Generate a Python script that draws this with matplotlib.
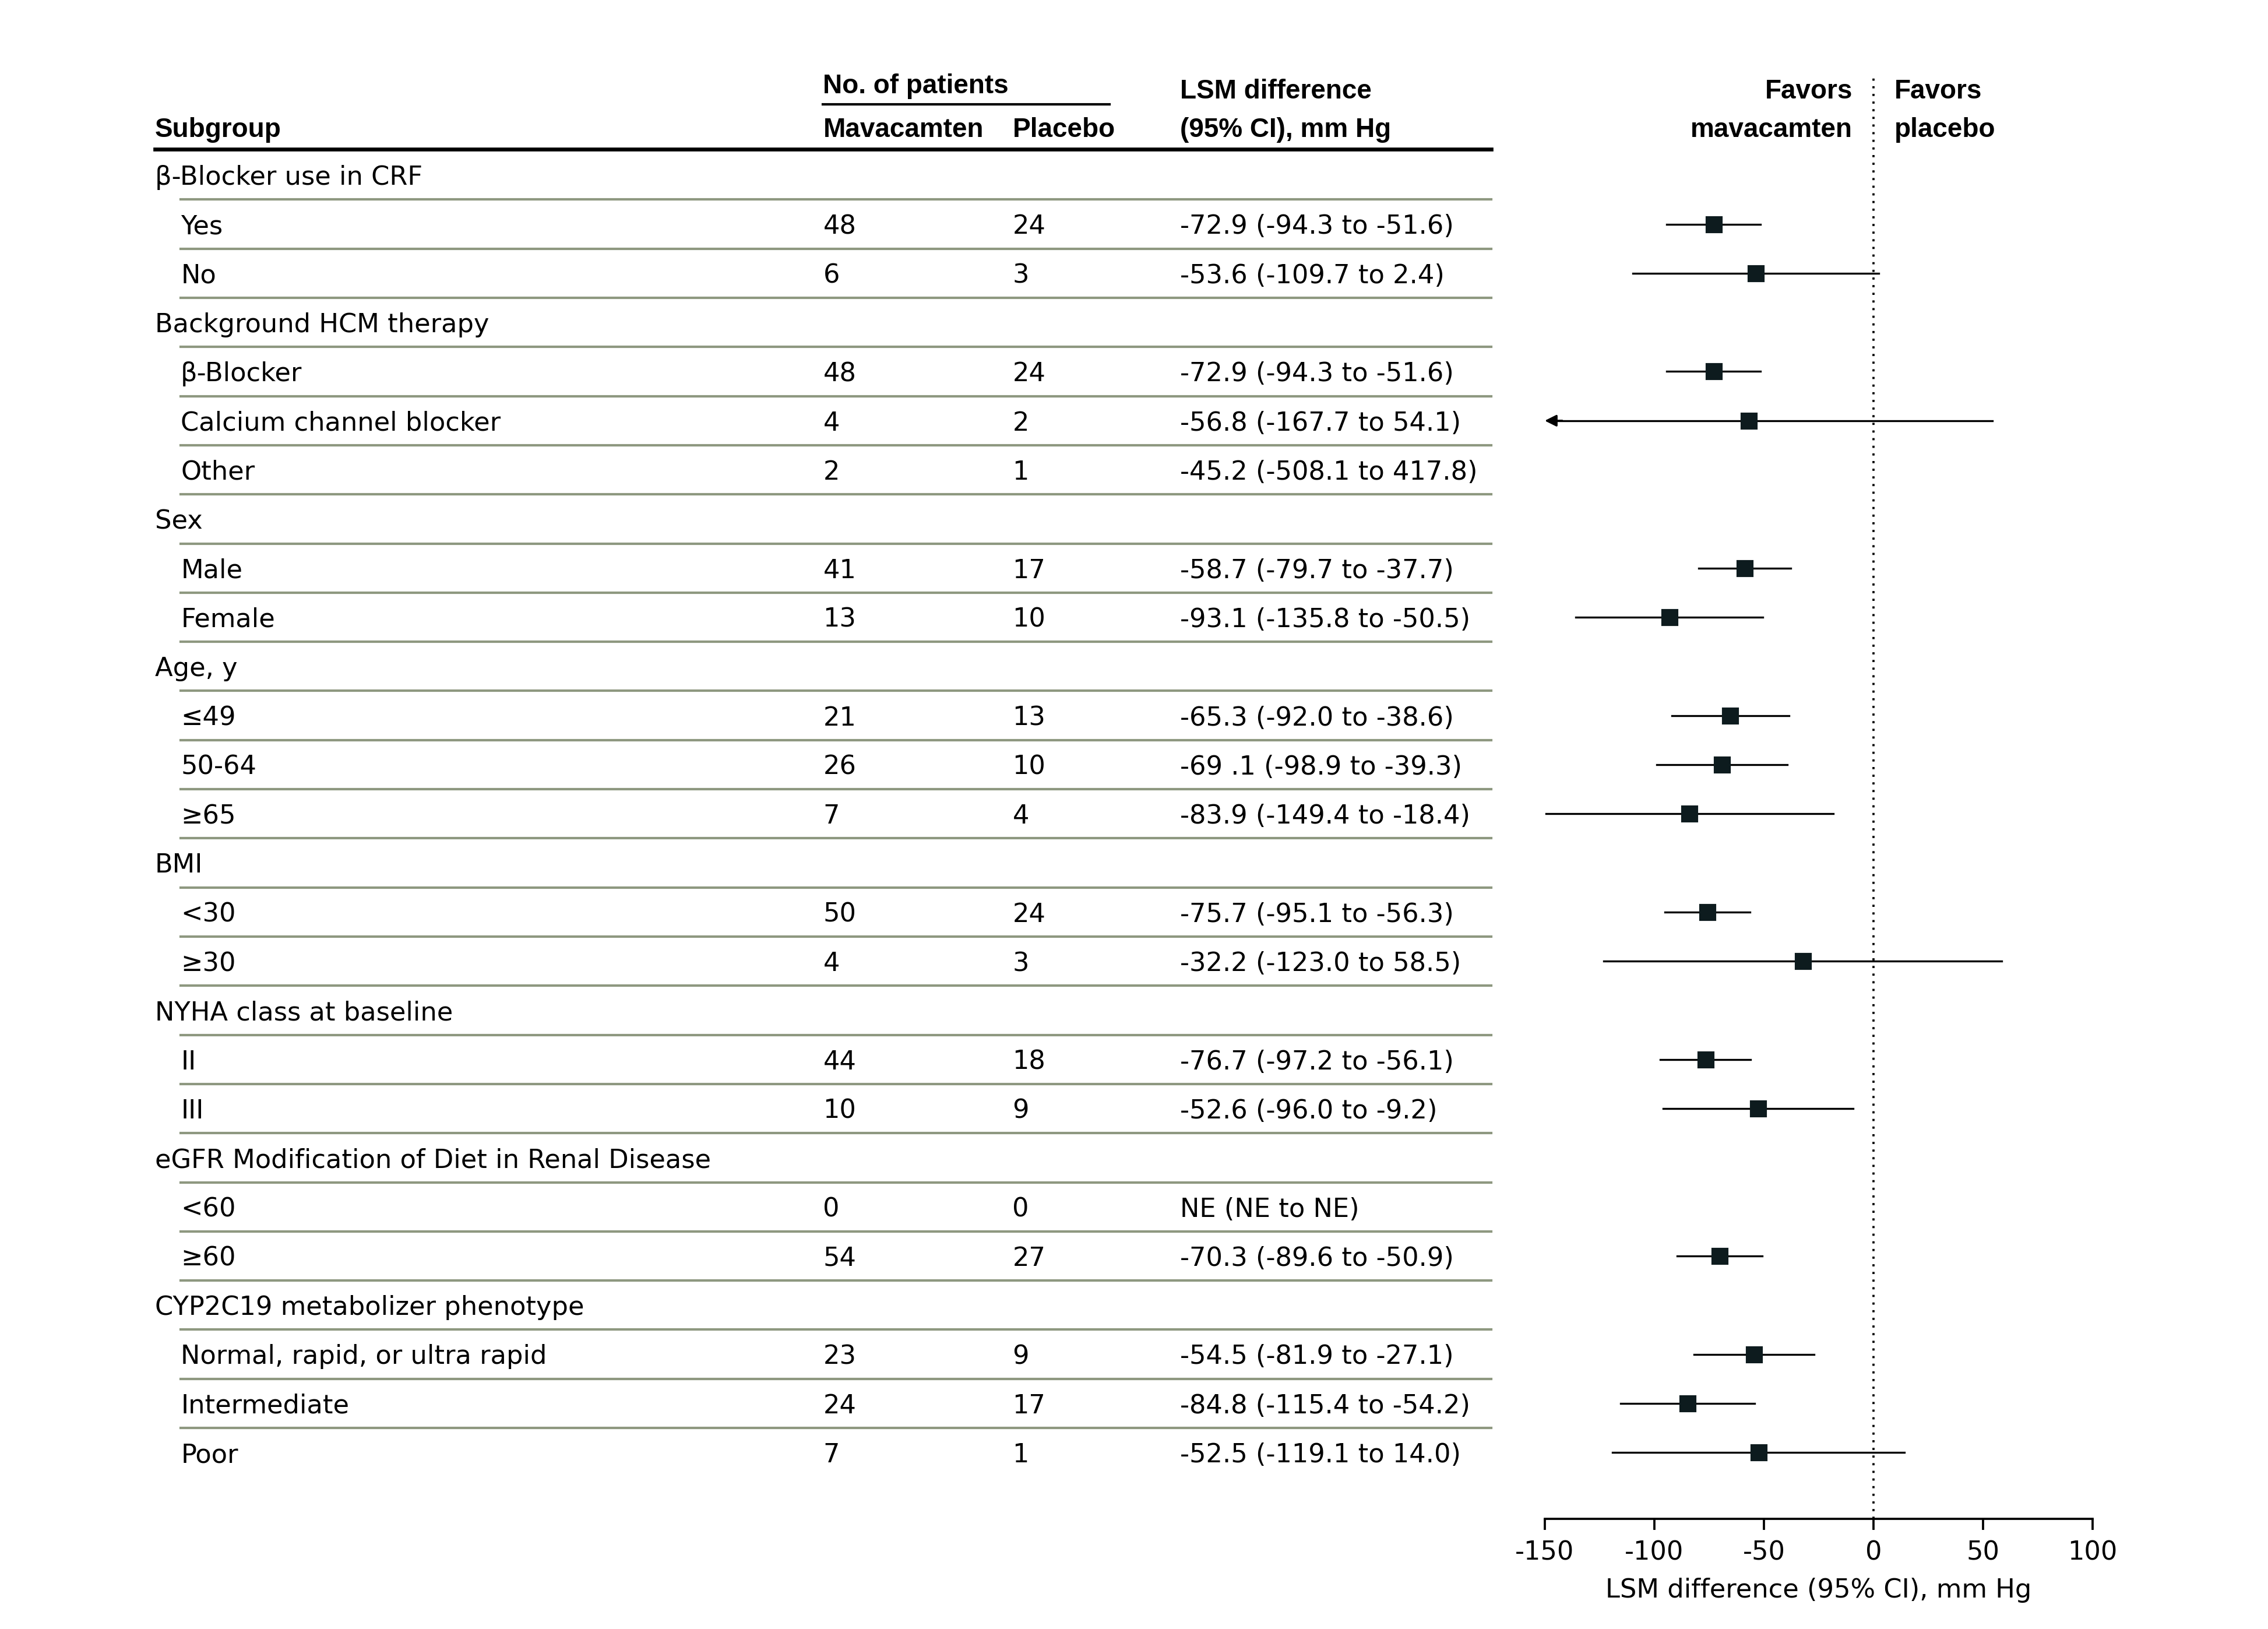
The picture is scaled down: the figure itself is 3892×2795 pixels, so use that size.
import matplotlib
matplotlib.use("Agg")
import matplotlib.pyplot as plt
import matplotlib.transforms as mtransforms

plt.rcParams['font.family'] = ['DejaVu Sans']
plt.rcParams['axes.unicode_minus'] = False

# ---- data ----
rows = [
    "β-Blocker use in CRF", "Yes", "No",
    "Background HCM therapy", "β-Blocker", "Calcium channel blocker", "Other",
    "Sex", "Male", "Female",
    "Age, y", "≤49", "50-64", "≥65",
    "BMI", "<30", "≥30",
    "NYHA class at baseline", "II", "III",
    "eGFR Modification of Diet in Renal Disease", "<60", "≥60",
    "CYP2C19 metabolizer phenotype", "Normal, rapid, or ultra rapid", "Intermediate", "Poor",
]
is_header = [True, False, False,
             True, False, False, False,
             True, False, False,
             True, False, False, False,
             True, False, False,
             True, False, False,
             True, False, False,
             True, False, False, False]
n_mava = [None, 48, 6, None, 48, 4, 2, None, 41, 13, None, 21, 26, 7,
          None, 50, 4, None, 44, 10, None, 0, 54, None, 23, 24, 7]
n_plac = [None, 24, 3, None, 24, 2, 1, None, 17, 10, None, 13, 10, 4,
          None, 24, 3, None, 18, 9, None, 0, 27, None, 9, 17, 1]
est = [None, -72.9, -53.6, None, -72.9, -56.8, -45.2, None, -58.7, -93.1,
       None, -65.3, -69.1, -83.9, None, -75.7, -32.2, None, -76.7, -52.6,
       None, None, -70.3, None, -54.5, -84.8, -52.5]
ci_lo = [None, -94.3, -109.7, None, -94.3, -167.7, -508.1, None, -79.7, -135.8,
         None, -92.0, -98.9, -149.4, None, -95.1, -123.0, None, -97.2, -96.0,
         None, None, -89.6, None, -81.9, -115.4, -119.1]
ci_hi = [None, -51.6, 2.4, None, -51.6, 54.1, 417.8, None, -37.7, -50.5,
         None, -38.6, -39.3, -18.4, None, -56.3, 58.5, None, -56.1, -9.2,
         None, None, -50.9, None, -27.1, -54.2, 14.0]
ci_text = ["", "-72.9 (-94.3 to -51.6)", "-53.6 (-109.7 to 2.4)",
           "", "-72.9 (-94.3 to -51.6)", "-56.8 (-167.7 to 54.1)", "-45.2 (-508.1 to 417.8)",
           "", "-58.7 (-79.7 to -37.7)", "-93.1 (-135.8 to -50.5)",
           "", "-65.3 (-92.0 to -38.6)", "-69 .1 (-98.9 to -39.3)", "-83.9 (-149.4 to -18.4)",
           "", "-75.7 (-95.1 to -56.3)", "-32.2 (-123.0 to 58.5)",
           "", "-76.7 (-97.2 to -56.1)", "-52.6 (-96.0 to -9.2)",
           "", "NE (NE to NE)", "-70.3 (-89.6 to -50.9)",
           "", "-54.5 (-81.9 to -27.1)", "-84.8 (-115.4 to -54.2)", "-52.5 (-119.1 to 14.0)"]
x_ticks = [-150, -100, -50, 0, 50, 100]

XMIN, XMAX = -150, 100
FS = 10.75
BFS = 11
BOLD = dict(fontsize=BFS, fontweight='bold', family=['Liberation Sans', 'DejaVu Sans'])
sep_color = '#8e9880'
mark_color = '#0d1b1e'

fig = plt.figure(figsize=(3892 / 300, 2795 / 300), dpi=300)
ax = fig.add_axes([0.6811, 0.0676, 0.2416, 0.8862])
ax.set_xlim(XMIN, XMAX)
ax.set_ylim(27.35, -2.03)

# table columns (figure fraction x, row y)
tr = mtransforms.blended_transform_factory(fig.transFigure, ax.transData)
x_sub, x_ind, x_mav, x_pla, x_ci, x_end = 0.0683, 0.0797, 0.3629, 0.4464, 0.5204, 0.6575

# headers
ax.text(x_mav, -1.66, "No. of patients", transform=tr, va='baseline', **BOLD)
ax.plot([x_mav, 0.4891], [-1.44, -1.44], transform=tr, color='black', lw=1.0, clip_on=False)
ax.text(x_sub, -0.77, "Subgroup", transform=tr, va='baseline', **BOLD)
ax.text(x_mav, -0.77, "Mavacamten", transform=tr, va='baseline', **BOLD)
ax.text(x_pla, -0.77, "Placebo", transform=tr, va='baseline', **BOLD)
ax.text(x_ci, -1.56, "LSM difference", transform=tr, va='baseline', **BOLD)
ax.text(x_ci, -0.77, "(95% CI), mm Hg", transform=tr, va='baseline', **BOLD)
ax.plot([x_sub, x_end], [-0.53, -0.53], transform=tr, color='black', lw=1.6, clip_on=False)

ax.text(-9.5, -1.56, "Favors", ha='right', va='baseline', **BOLD)
ax.text(-9.5, -0.77, "mavacamten", ha='right', va='baseline', **BOLD)
ax.text(9.5, -1.56, "Favors", ha='left', va='baseline', **BOLD)
ax.text(9.5, -0.77, "placebo", ha='left', va='baseline', **BOLD)

for i, name in enumerate(rows):
    yb = i + 0.2
    if is_header[i]:
        ax.text(x_sub, yb, name, transform=tr, fontsize=FS, va='baseline')
    else:
        ax.text(x_ind, yb, name, transform=tr, fontsize=FS, va='baseline')
        ax.text(x_mav, yb, str(n_mava[i]), transform=tr, fontsize=FS, va='baseline')
        ax.text(x_pla, yb, str(n_plac[i]), transform=tr, fontsize=FS, va='baseline')
        ax.text(x_ci, yb, ci_text[i], transform=tr, fontsize=FS, va='baseline')
    if i < len(rows) - 1:
        ax.plot([x_ind, x_end], [i + 0.5, i + 0.5], transform=tr, color=sep_color,
                lw=1.0, clip_on=False)

    # forest marks
    if est[i] is None:
        continue
    lo, hi = ci_lo[i], ci_hi[i]
    if lo < XMIN and hi > XMAX:
        continue
    if lo < XMIN:
        ax.plot([XMIN + 3, hi], [i, i], color='black', lw=0.8)
        ax.annotate("", xy=(XMIN, i), xytext=(XMIN + 8, i),
                    arrowprops=dict(arrowstyle='-|>', color='black', lw=0.8,
                                    mutation_scale=10, shrinkA=0, shrinkB=0))
    else:
        ax.plot([lo, min(hi, XMAX)], [i, i], color='black', lw=0.8)
    ax.plot(est[i], i, marker='s', ms=6, color=mark_color, mec=mark_color)

ax.axvline(0, color='black', lw=0.9, ls=(0, (1, 2.5)), zorder=0)

for s in ['top', 'right', 'left']:
    ax.spines[s].set_visible(False)
ax.spines['bottom'].set_linewidth(0.9)
ax.set_yticks([])
ax.set_xticks(x_ticks)
ax.tick_params(axis='x', direction='out', length=4.5, width=0.9, pad=4.3, labelsize=FS)
ax.set_xlabel("LSM difference (95% CI), mm Hg", fontsize=FS, labelpad=5)

fig.savefig("out.png", dpi=300)
